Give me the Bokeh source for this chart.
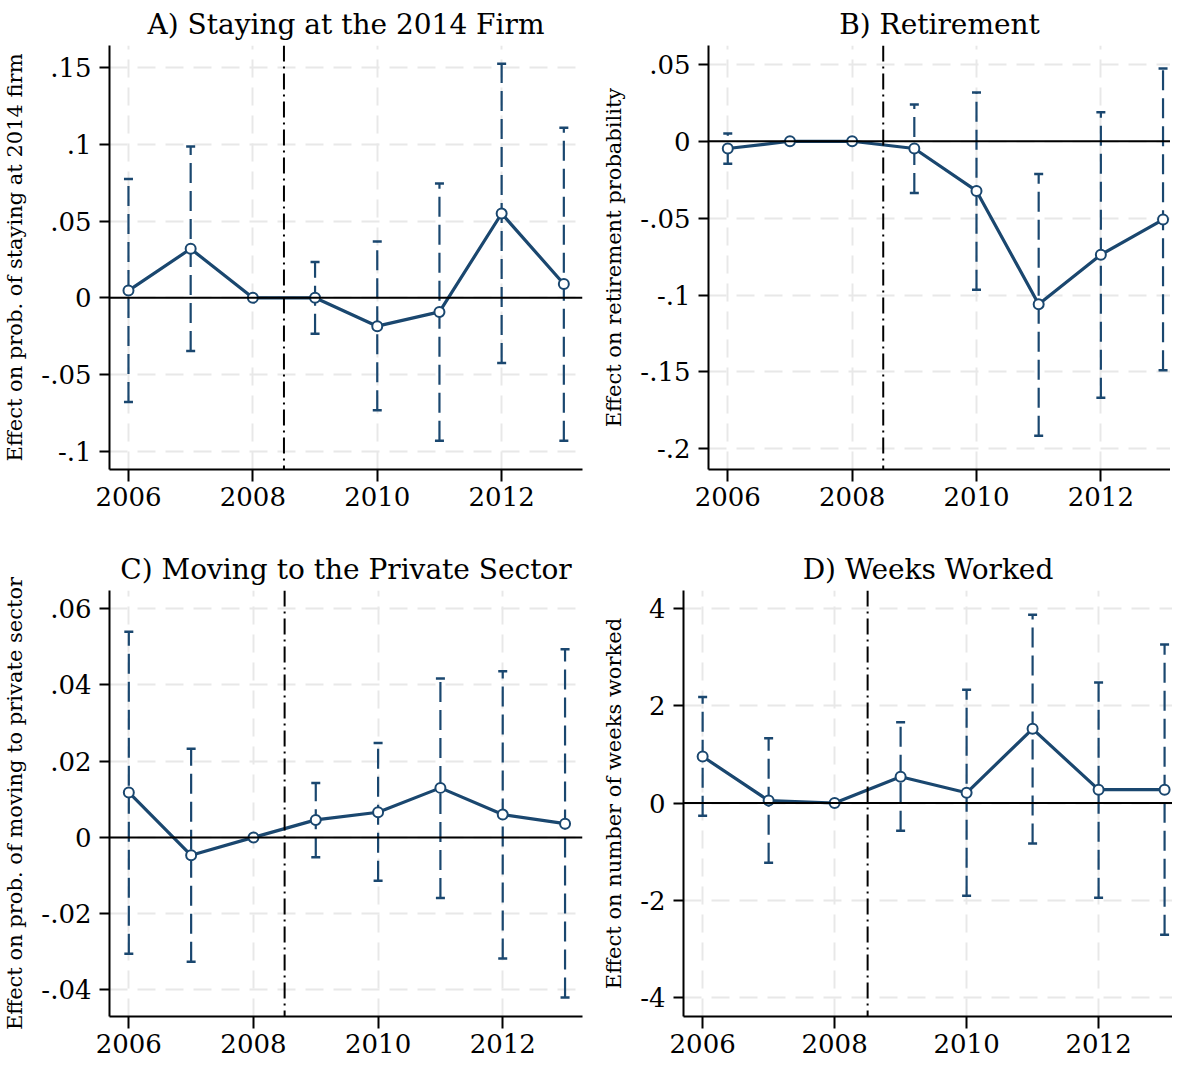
from bokeh.plotting import figure
from bokeh.layouts import column, row
from bokeh.models import Span, FixedTicker, Range1d, ColumnDataSource, CustomJSTickFormatter
from bokeh.embed import file_html
from bokeh.resources import INLINE

years = [2006, 2007, 2008, 2009, 2010, 2011, 2012, 2013]
xticks = [2006, 2008, 2010, 2012]

# Panel A: Staying at the 2014 firm
a_est = [0.0047, 0.032, 0.0, 0.0, -0.0185, -0.0092, 0.055, 0.009]
a_lo = [-0.068, -0.0347, None, -0.0234, -0.0734, -0.0932, -0.0426, -0.0932]
a_hi = [0.0775, 0.0987, None, 0.0234, 0.0367, 0.0745, 0.1527, 0.111]
a_yticks = [-0.1, -0.05, 0, 0.05, 0.1, 0.15]

# Panel B: Retirement
b_est = [-0.0047, 0.0, 0.0, -0.0047, -0.0323, -0.106, -0.0738, -0.0509]
b_lo = [-0.0146, None, None, -0.0336, -0.0966, -0.1915, -0.1668, -0.149]
b_hi = [0.005, None, None, 0.024, 0.0318, -0.0213, 0.0188, 0.0473]
b_yticks = [-0.2, -0.15, -0.1, -0.05, 0, 0.05]

# Panel C: Moving to the private sector
c_est = [0.0118, -0.0047, 0.0, 0.0046, 0.0066, 0.013, 0.006, 0.0036]
c_lo = [-0.0305, -0.0326, None, -0.0052, -0.0114, -0.0159, -0.0318, -0.042]
c_hi = [0.054, 0.0233, None, 0.0143, 0.0248, 0.0417, 0.0436, 0.0494]
c_yticks = [-0.04, -0.02, 0, 0.02, 0.04, 0.06]

# Panel D: Weeks worked
d_est = [0.956, 0.05, 0.0, 0.54, 0.21, 1.525, 0.274, 0.274]
d_lo = [-0.26, -1.23, None, -0.57, -1.905, -0.83, -1.95, -2.71]
d_hi = [2.18, 1.33, None, 1.66, 2.33, 3.87, 2.48, 3.26]
d_yticks = [-4, -2, 0, 2, 4]

NAVY = "#1a476f"
SERIF = "DejaVu Serif"

fmt = CustomJSTickFormatter(code="""
var v = Math.round(tick*1000)/1000;
if (v === 0) { return "0"; }
var s = v.toString();
return s.replace(/^(-?)0\\./, "$1.");
""")


def panel(title, ylabel, est, lo, hi, yticks, xr, yr, fw, fh, bl, br, bt, bb):
    p = figure(frame_width=fw, frame_height=fh, output_backend="svg", toolbar_location=None,
               x_range=Range1d(*xr), y_range=Range1d(*yr),
               min_border_left=bl, min_border_right=br,
               min_border_top=bt, min_border_bottom=bb)
    p.outline_line_color = None
    p.background_fill_color = "white"
    p.border_fill_color = "white"

    p.title.text = title
    p.title.align = "center"
    p.title.text_font = SERIF
    p.title.text_font_style = "normal"
    p.title.text_font_size = "28px"
    p.title.text_color = "black"

    p.xaxis.ticker = FixedTicker(ticks=xticks)
    p.yaxis.ticker = FixedTicker(ticks=yticks)
    p.yaxis.formatter = fmt
    for ax in (p.xaxis[0], p.yaxis[0]):
        ax.axis_line_color = "black"
        ax.axis_line_width = 2
        ax.major_tick_line_color = "black"
        ax.major_tick_line_width = 2
        ax.major_tick_in = 0
        ax.minor_tick_line_color = None
        ax.major_label_text_font = SERIF
        ax.major_label_text_font_size = "26px"
        ax.major_label_text_color = "black"
    p.xaxis.major_tick_out = 12
    p.yaxis.major_tick_out = 10
    p.xaxis.major_label_standoff = 5
    p.yaxis.major_label_standoff = 8
    p.yaxis.major_label_orientation = "horizontal"
    p.yaxis.axis_label = ylabel
    p.yaxis.axis_label_text_font = SERIF
    p.yaxis.axis_label_text_font_style = "normal"
    p.yaxis.axis_label_text_font_size = "21px"
    p.yaxis.axis_label_text_color = "black"
    p.yaxis.axis_label_standoff = 11

    for g in (p.xgrid[0], p.ygrid[0]):
        g.grid_line_color = "#e8e8e8"
        g.grid_line_width = 2
        g.grid_line_dash = "18 10"

    p.add_layout(Span(location=0, dimension="width", line_color="black", line_width=2))
    p.add_layout(Span(location=2008.5, dimension="height", line_color="black",
                      line_width=2, line_dash="16 5 2 5"))

    cx = [x for x, l in zip(years, lo) if l is not None]
    cl = [l for l in lo if l is not None]
    ch = [u for u in hi if u is not None]
    ci = ColumnDataSource(dict(x=cx, lo=cl, hi=ch))
    p.segment(x0="x", y0="lo", x1="x", y1="hi", source=ci, line_color=NAVY,
              line_width=2.2, line_dash="20 8")
    p.scatter(x="x", y="lo", source=ci, marker="dash", size=9, line_color=NAVY, line_width=2.5)
    p.scatter(x="x", y="hi", source=ci, marker="dash", size=9, line_color=NAVY, line_width=2.5)

    src = ColumnDataSource(dict(x=years, y=est))
    p.line(x="x", y="y", source=src, line_color=NAVY, line_width=3.2)
    p.scatter(x="x", y="y", source=src, marker="circle", size=10,
              line_color=NAVY, line_width=2, fill_color="white")
    return p


pa = panel("A) Staying at the 2014 Firm", "Effect on prob. of staying at 2014 firm",
           a_est, a_lo, a_hi, a_yticks, (2005.695, 2013.30), (-0.112, 0.1646),
           473, 424, 102, 7, 39, 63)
pb = panel("B) Retirement", "Effect on retirement probability",
           b_est, b_lo, b_hi, b_yticks, (2005.69, 2013.12), (-0.2135, 0.0623),
           462, 424, 119, 0, 39, 63)
pc = panel("C) Moving to the Private Sector", "Effect on prob. of moving to private sector",
           c_est, c_lo, c_hi, c_yticks, (2005.69, 2013.28), (-0.047, 0.0648),
           473, 426, 100, 9, 58, 46)
pd = panel("D) Weeks Worked", "Effect on number of weeks worked",
           d_est, d_lo, d_hi, d_yticks, (2005.71, 2013.12), (-4.39, 4.37),
           489, 426, 92, 0, 58, 46)

page = column(row(pa, pb, spacing=0), row(pc, pd, spacing=0), spacing=0)

open("out.html", "w").write(file_html(page, INLINE))
